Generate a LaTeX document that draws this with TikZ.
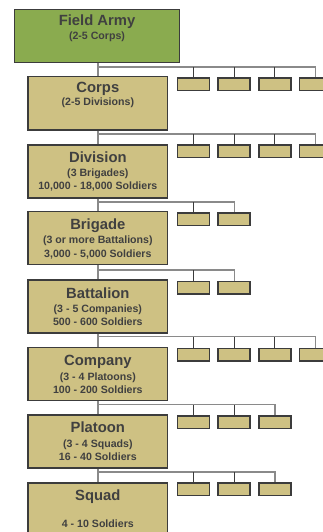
\documentclass[tikz,border=0pt]{standalone}
\usepackage{fontspec}
\setmainfont{Liberation Sans}
\usetikzlibrary{calc}
\definecolor{armygreen}{HTML}{8AAB4F}
\definecolor{unittan}{HTML}{CEC183}
\definecolor{edgegray}{HTML}{3C3C3C}
\definecolor{textgray}{HTML}{404040}
\definecolor{linkgray}{HTML}{8A8A8A}
\tikzset{
  unitbox/.style={draw=edgegray, line width=1.5pt, fill=unittan, minimum width=139.7pt, minimum height=53pt, inner sep=0pt, anchor=north},
  subbox/.style={draw=edgegray, line width=1.5pt, fill=unittan, minimum width=32pt, minimum height=12.5pt, inner sep=0pt, anchor=north},
  titletext/.style={anchor=base, inner sep=0pt, text=textgray, font=\fontsize{14.8}{16}\selectfont\bfseries},
  infotext/.style={anchor=base, inner sep=0pt, text=textgray, font=\fontsize{10.6}{12}\selectfont\bfseries},
  branch/.style={draw=linkgray, line width=1.2pt},
  drop/.style={draw=edgegray, line width=0.9pt},
}
\begin{document}
\begin{tikzpicture}[x=1pt,y=-1pt]
\useasboundingbox (0,0) rectangle (323,532);
\clip (0,0) rectangle (323,532);

% ---- main chain of command ----
\node[unitbox, fill=armygreen, minimum width=165pt] (army) at (97,9) {};
\node[titletext] (army-t) at ($(army.north)+(0,16.7)$) {Field Army};
\node[infotext] (army-s) at ($(army.north)+(0,30.3)$) {(2-5 Corps)};

\node[unitbox] (corps) at (97.85,76) {};
\node[titletext] (corps-t) at ($(corps.north)+(0,16.5)$) {Corps};
\node[infotext] (corps-s) at ($(corps.north)+(0,29.8)$) {(2-5 Divisions)};

\node[unitbox] (div) at (97.85,144) {};
\node[titletext] (div-t) at ($(div.north)+(0,18.3)$) {Division};
\node[infotext] (div-s) at ($(div.north)+(0,32.2)$) {(3 Brigades)};
\node[infotext] (div-n) at ($(div.north)+(0,45.5)$) {10,000 - 18,000 Soldiers};

\node[unitbox] (brig) at (97.85,210.7) {};
\node[titletext] (brig-t) at ($(brig.north)+(0,18.5)$) {Brigade};
\node[infotext] (brig-s) at ($(brig.north)+(0,33)$) {(3 or more Battalions)};
\node[infotext] (brig-n) at ($(brig.north)+(0,46.3)$) {3,000 - 5,000 Soldiers};

\node[unitbox] (batt) at (97.85,279.3) {};
\node[titletext] (batt-t) at ($(batt.north)+(0,19)$) {Battalion};
\node[infotext] (batt-s) at ($(batt.north)+(0,33.5)$) {(3 - 5 Companies)};
\node[infotext] (batt-n) at ($(batt.north)+(0,46)$) {500 - 600 Soldiers};

\node[unitbox] (comp) at (97.85,346.7) {};
\node[titletext] (comp-t) at ($(comp.north)+(0,18.5)$) {Company};
\node[infotext] (comp-s) at ($(comp.north)+(0,33.5)$) {(3 - 4 Platoons)};
\node[infotext] (comp-n) at ($(comp.north)+(0,46.3)$) {100 - 200 Soldiers};

\node[unitbox] (plt) at (97.85,414.3) {};
\node[titletext] (plt-t) at ($(plt.north)+(0,18.5)$) {Platoon};
\node[infotext] (plt-s) at ($(plt.north)+(0,33)$) {(3 - 4 Squads)};
\node[infotext] (plt-n) at ($(plt.north)+(0,46.5)$) {16 - 40 Soldiers};

\node[unitbox] (sqd) at (97.85,482.3) {};
\node[titletext] (sqd-t) at ($(sqd.north)+(0,17.7)$) {Squad};
\node[infotext] (sqd-n) at ($(sqd.north)+(0,45.4)$) {4 - 10 Soldiers};

% ---- branch lines: rail y, number of sub-units, sub-unit top ----
\foreach \p/\c/\ry/\k/\sy in {army/corps/67/4/77.3, corps/div/134/4/144,
    div/brig/202/2/212.3, brig/batt/270/2/280.7, batt/comp/336.7/4/347.7,
    comp/plt/404.7/3/415, plt/sqd/472/3/482.3}{
  \coordinate (\c-rail) at (98,\ry);
  \draw[branch] (\p.south -| \c-rail) -- (\c.north -| \c-rail);
  \foreach \i in {1,...,\k}{
    \node[subbox] (\c-u\i) at ({193.3+40.8*(\i-1)},\sy) {};
  }
  \draw[branch] (\c-rail) -| (\c-u\k.north);
  \ifnum\k>1
    \pgfmathtruncatemacro{\last}{\k-1}
    \foreach \i in {1,...,\last}{
      \draw[drop] (\c-u\i.north) -- (\c-u\i.north |- \c-rail);
    }
  \fi
}
\end{tikzpicture}
\end{document}
